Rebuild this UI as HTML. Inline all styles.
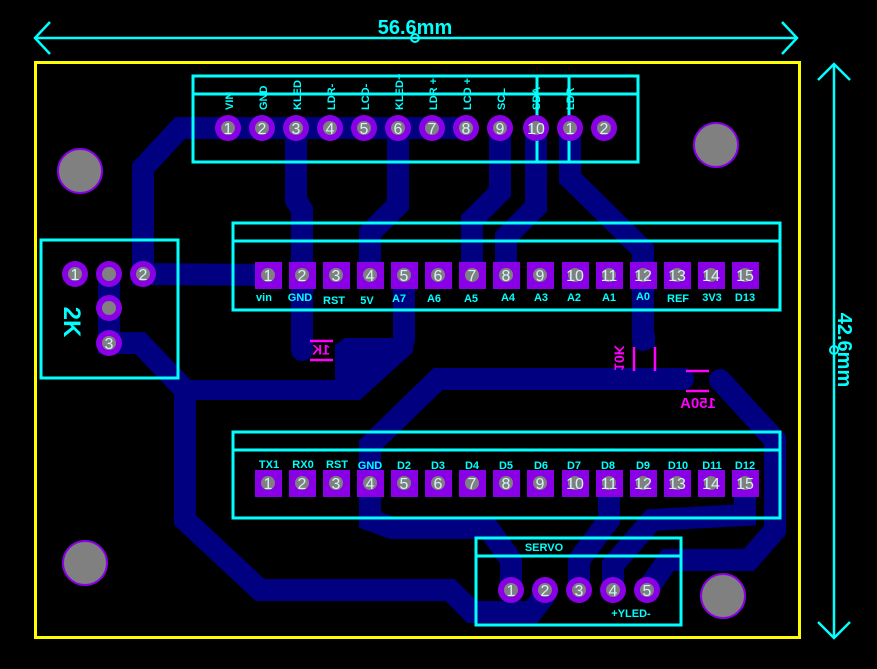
<!DOCTYPE html>
<html><head><meta charset="utf-8"><style>
html,body{margin:0;padding:0;background:#000;}
svg{display:block;}
text{font-family:"Liberation Sans",sans-serif;font-weight:bold;}
text.n{font-weight:normal;}
</style></head><body>
<svg width="877" height="669" viewBox="0 0 877 669" xmlns="http://www.w3.org/2000/svg">
<rect width="877" height="669" fill="#000"/>
<g fill="none" stroke="#000080" stroke-width="22" stroke-linecap="round" stroke-linejoin="miter">
 <polyline points="466,128 180,128 143,168 143,274 268,275"/>
 <polyline points="296,128 296,200 302,210 302,350"/>
 <polyline points="398,128 398,205 370,233 370,275"/>
 <polyline points="500,128 500,192 472,220 472,275"/>
 <polyline points="536,128 536,207 506,237 506,275"/>
 <polyline points="570,128 570,178 643,250 643,340"/>
 <polyline points="404,275 404,340"/>
 <polyline points="109,274 109,343 140,343 185,390 185,520 260,590 450,590 472,612 532,612 545,595"/>
 <polyline points="683,379 438,379 370,445 370,520 392,528 488,528 511,560 511,590"/>
 <polyline points="720,380 775,440 775,530 749,560 668,560 647,590"/>
 <polyline points="609,483 609,520 579,560 579,590"/>
 <polyline points="745,483 745,515 652,520 613,565 613,590"/>
</g>
<polygon points="335,345 345,338 413,338 413,352 360,400 185,400 185,380 335,380" fill="#000080"/>
<rect x="635" y="333" width="20" height="15" fill="#000080"/>
<rect x="35.5" y="62.5" width="764" height="575" fill="none" stroke="#ffff00" stroke-width="3"/>
<g stroke="#00ffff" stroke-width="2.5" fill="none">
 <line x1="35" y1="38" x2="797" y2="38"/>
 <polyline points="50,22 35,38 50,54"/>
 <polyline points="782,22 797,38 782,54"/>
 <line x1="834" y1="64" x2="834" y2="638"/>
 <polyline points="818,80 834,64 850,80"/>
 <polyline points="818,622 834,638 850,622"/>
</g>
<circle cx="415" cy="38" r="4" fill="none" stroke="#00ffff" stroke-width="2"/>
<circle cx="834" cy="350" r="4" fill="none" stroke="#00ffff" stroke-width="2"/>
<text x="415" y="34" fill="#00ffff" font-size="20" text-anchor="middle">56.6mm</text>
<text transform="translate(838,350) rotate(90)" fill="#00ffff" font-size="20" text-anchor="middle">42.6mm</text>
<g fill="#808080" stroke="#8a00e6" stroke-width="2">
 <circle cx="80" cy="171" r="22"/><circle cx="716" cy="145" r="22"/>
 <circle cx="85" cy="563" r="22"/><circle cx="723" cy="596" r="22"/>
</g>
<g fill="none" stroke="#00ffff" stroke-width="3">
 <rect x="193" y="76" width="445" height="86"/><line x1="193" y1="94" x2="638" y2="94"/>
 <line x1="537" y1="76" x2="537" y2="162"/><line x1="569" y1="76" x2="569" y2="162"/>
 <rect x="233" y="223" width="547" height="87"/><line x1="233" y1="241" x2="780" y2="241"/>
 <rect x="233" y="432" width="547" height="86"/><line x1="233" y1="450" x2="780" y2="450"/>
 <rect x="476" y="538" width="205" height="87"/><line x1="476" y1="556" x2="681" y2="556"/>
 <rect x="41" y="240" width="137" height="138"/>
</g>
<g font-size="11" fill="#00ffff">
 <text transform="translate(233,110) rotate(-90)">VIN</text>
 <text transform="translate(267,110) rotate(-90)">GND</text>
 <text transform="translate(301,110) rotate(-90)">KLED</text>
 <text transform="translate(335,110) rotate(-90)">LDR-</text>
 <text transform="translate(369,110) rotate(-90)">LCD-</text>
 <text transform="translate(403,110) rotate(-90)">KLED+</text>
 <text transform="translate(437,110) rotate(-90)">LDR +</text>
 <text transform="translate(471,110) rotate(-90)">LCD +</text>
 <text transform="translate(505,110) rotate(-90)">SCL</text>
 <text transform="translate(540,110) rotate(-90)">SDA</text>
 <text transform="translate(574,110) rotate(-90)">LDR</text>
</g>
<g fill="#8a00e6">
 <circle cx="228" cy="128" r="13"/><circle cx="262" cy="128" r="13"/><circle cx="296" cy="128" r="13"/>
 <circle cx="330" cy="128" r="13"/><circle cx="364" cy="128" r="13"/><circle cx="398" cy="128" r="13"/>
 <circle cx="432" cy="128" r="13"/><circle cx="466" cy="128" r="13"/><circle cx="500" cy="128" r="13"/>
 <circle cx="536" cy="128" r="13"/><circle cx="570" cy="128" r="13"/><circle cx="604" cy="128" r="13"/>
 <circle cx="75" cy="274" r="13"/><circle cx="109" cy="274" r="13"/><circle cx="143" cy="274" r="13"/>
 <circle cx="109" cy="308" r="13"/><circle cx="109" cy="343" r="13"/>
 <circle cx="511" cy="590" r="13"/><circle cx="545" cy="590" r="13"/><circle cx="579" cy="590" r="13"/>
 <circle cx="613" cy="590" r="13"/><circle cx="647" cy="590" r="13"/>
</g>
<g fill="#8a00e6">
 <rect x="255" y="262" width="27" height="27"/><rect x="289" y="262" width="27" height="27"/><rect x="323" y="262" width="27" height="27"/>
 <rect x="357" y="262" width="27" height="27"/><rect x="391" y="262" width="27" height="27"/><rect x="425" y="262" width="27" height="27"/>
 <rect x="459" y="262" width="27" height="27"/><rect x="493" y="262" width="27" height="27"/><rect x="527" y="262" width="27" height="27"/>
 <rect x="562" y="262" width="27" height="27"/><rect x="596" y="262" width="27" height="27"/><rect x="630" y="262" width="27" height="27"/>
 <rect x="664" y="262" width="27" height="27"/><rect x="698" y="262" width="27" height="27"/><rect x="732" y="262" width="27" height="27"/>
 <rect x="255" y="470" width="27" height="27"/><rect x="289" y="470" width="27" height="27"/><rect x="323" y="470" width="27" height="27"/>
 <rect x="357" y="470" width="27" height="27"/><rect x="391" y="470" width="27" height="27"/><rect x="425" y="470" width="27" height="27"/>
 <rect x="459" y="470" width="27" height="27"/><rect x="493" y="470" width="27" height="27"/><rect x="527" y="470" width="27" height="27"/>
 <rect x="562" y="470" width="27" height="27"/><rect x="596" y="470" width="27" height="27"/><rect x="630" y="470" width="27" height="27"/>
 <rect x="664" y="470" width="27" height="27"/><rect x="698" y="470" width="27" height="27"/><rect x="732" y="470" width="27" height="27"/>
</g>
<g fill="#808080">
 <circle cx="228" cy="128" r="7"/><circle cx="262" cy="128" r="7"/><circle cx="296" cy="128" r="7"/>
 <circle cx="330" cy="128" r="7"/><circle cx="364" cy="128" r="7"/><circle cx="398" cy="128" r="7"/>
 <circle cx="432" cy="128" r="7"/><circle cx="466" cy="128" r="7"/><circle cx="500" cy="128" r="7"/>
 <circle cx="536" cy="128" r="7"/><circle cx="570" cy="128" r="7"/><circle cx="604" cy="128" r="7"/>
 <circle cx="75" cy="274" r="7"/><circle cx="109" cy="274" r="7"/><circle cx="143" cy="274" r="7"/>
 <circle cx="109" cy="308" r="7"/><circle cx="109" cy="343" r="7"/>
 <circle cx="511" cy="590" r="7"/><circle cx="545" cy="590" r="7"/><circle cx="579" cy="590" r="7"/>
 <circle cx="613" cy="590" r="7"/><circle cx="647" cy="590" r="7"/>
 <circle cx="268" cy="275" r="7"/><circle cx="302" cy="275" r="7"/><circle cx="336" cy="275" r="7"/><circle cx="370" cy="275" r="7"/><circle cx="404" cy="275" r="7"/><circle cx="438" cy="275" r="7"/><circle cx="472" cy="275" r="7"/><circle cx="506" cy="275" r="7"/><circle cx="540" cy="275" r="7"/><circle cx="575" cy="275" r="7"/><circle cx="609" cy="275" r="7"/><circle cx="643" cy="275" r="7"/><circle cx="677" cy="275" r="7"/><circle cx="711" cy="275" r="7"/><circle cx="745" cy="275" r="7"/>
 <circle cx="268" cy="483" r="7"/><circle cx="302" cy="483" r="7"/><circle cx="336" cy="483" r="7"/><circle cx="370" cy="483" r="7"/><circle cx="404" cy="483" r="7"/><circle cx="438" cy="483" r="7"/><circle cx="472" cy="483" r="7"/><circle cx="506" cy="483" r="7"/><circle cx="540" cy="483" r="7"/><circle cx="575" cy="483" r="7"/><circle cx="609" cy="483" r="7"/><circle cx="643" cy="483" r="7"/><circle cx="677" cy="483" r="7"/><circle cx="711" cy="483" r="7"/><circle cx="745" cy="483" r="7"/>
</g>
<g font-size="16" fill="#d0f4f4" text-anchor="middle">
 <text class="n" x="228" y="134">1</text><text class="n" x="262" y="134">2</text><text class="n" x="296" y="134">3</text><text class="n" x="330" y="134">4</text><text class="n" x="364" y="134">5</text><text class="n" x="398" y="134">6</text><text class="n" x="432" y="134">7</text><text class="n" x="466" y="134">8</text><text class="n" x="500" y="134">9</text><text class="n" x="536" y="134">10</text><text class="n" x="570" y="134">1</text><text class="n" x="604" y="134">2</text>
 <text class="n" x="75" y="280">1</text><text class="n" x="143" y="280">2</text><text class="n" x="109" y="349">3</text>
 <text class="n" x="511" y="596">1</text><text class="n" x="545" y="596">2</text><text class="n" x="579" y="596">3</text><text class="n" x="613" y="596">4</text><text class="n" x="647" y="596">5</text>
 <text class="n" x="268" y="281">1</text><text class="n" x="302" y="281">2</text><text class="n" x="336" y="281">3</text><text class="n" x="370" y="281">4</text><text class="n" x="404" y="281">5</text><text class="n" x="438" y="281">6</text><text class="n" x="472" y="281">7</text><text class="n" x="506" y="281">8</text><text class="n" x="540" y="281">9</text><text class="n" x="575" y="281">10</text><text class="n" x="609" y="281">11</text><text class="n" x="643" y="281">12</text><text class="n" x="677" y="281">13</text><text class="n" x="711" y="281">14</text><text class="n" x="745" y="281">15</text>
 <text class="n" x="268" y="489">1</text><text class="n" x="302" y="489">2</text><text class="n" x="336" y="489">3</text><text class="n" x="370" y="489">4</text><text class="n" x="404" y="489">5</text><text class="n" x="438" y="489">6</text><text class="n" x="472" y="489">7</text><text class="n" x="506" y="489">8</text><text class="n" x="540" y="489">9</text><text class="n" x="575" y="489">10</text><text class="n" x="609" y="489">11</text><text class="n" x="643" y="489">12</text><text class="n" x="677" y="489">13</text><text class="n" x="711" y="489">14</text><text class="n" x="745" y="489">15</text>
</g>
<g font-size="11" fill="#00ffff" text-anchor="middle">
 <text x="264" y="301">vin</text><text x="300" y="301">GND</text><text x="334" y="304">RST</text><text x="367" y="304">5V</text><text x="399" y="302">A7</text><text x="434" y="302">A6</text><text x="471" y="302">A5</text><text x="508" y="301">A4</text><text x="541" y="301">A3</text><text x="574" y="301">A2</text><text x="609" y="301">A1</text><text x="643" y="300">A0</text><text x="678" y="302">REF</text><text x="712" y="301">3V3</text><text x="745" y="301">D13</text>
 <text x="269" y="468">TX1</text><text x="303" y="468">RX0</text><text x="337" y="468">RST</text><text x="370" y="469">GND</text><text x="404" y="469">D2</text><text x="438" y="469">D3</text><text x="472" y="469">D4</text><text x="506" y="469">D5</text><text x="541" y="469">D6</text><text x="574" y="469">D7</text><text x="608" y="469">D8</text><text x="643" y="469">D9</text><text x="678" y="469">D10</text><text x="712" y="469">D11</text><text x="745" y="469">D12</text>
 <text x="544" y="551">SERVO</text><text x="631" y="617">+YLED-</text>
</g>
<text transform="translate(64,322) rotate(90)" fill="#00ffff" font-size="24" text-anchor="middle">2K</text>
<g stroke="#ff00ff" stroke-width="2.5">
 <line x1="310" y1="341" x2="333" y2="341"/><line x1="310" y1="360" x2="333" y2="360"/>
 <line x1="634" y1="347" x2="634" y2="371"/><line x1="655" y1="347" x2="655" y2="371"/>
 <line x1="686" y1="371" x2="709" y2="371"/><line x1="686" y1="391" x2="709" y2="391"/>
</g>
<text transform="translate(321,351) scale(-1,1)" fill="#ff00ff" font-size="14" text-anchor="middle" dominant-baseline="middle">1K</text>
<text transform="translate(618,358) rotate(90) scale(-1,1)" fill="#ff00ff" font-size="14" text-anchor="middle" dominant-baseline="middle">10K</text>
<text transform="translate(698,404) scale(-1,1)" fill="#ff00ff" font-size="15" text-anchor="middle" dominant-baseline="middle">150A</text>
</svg>
</body></html>
